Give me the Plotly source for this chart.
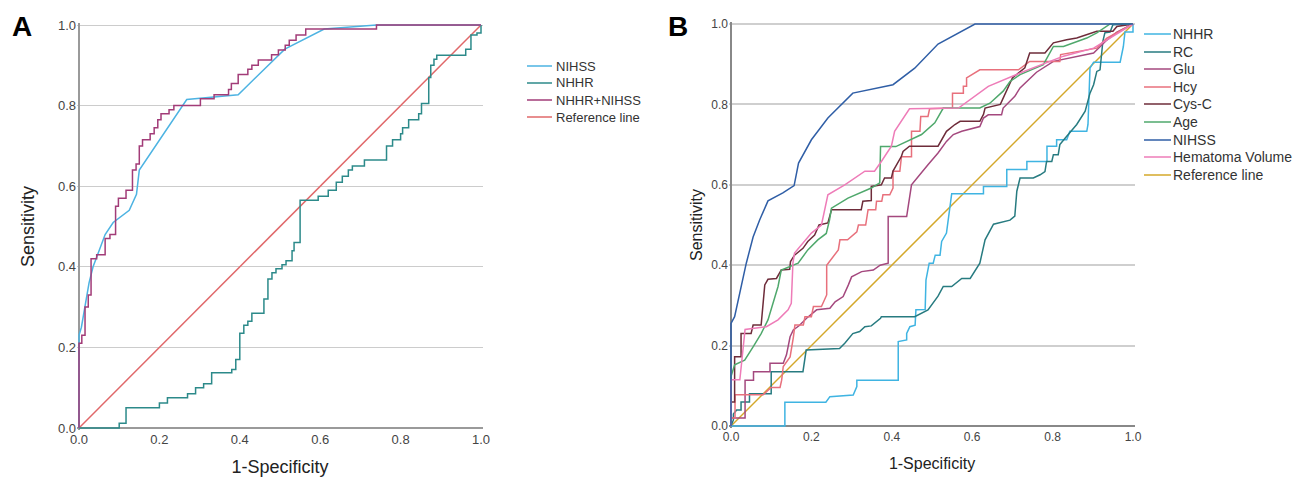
import plotly.graph_objects as go

# ---------------- Panel A data ----------------
a_nihss_x = [0, 0, 0.006, 0.015, 0.025, 0.035, 0.05, 0.065, 0.085, 0.125, 0.143, 0.15, 0.268, 0.33, 0.396, 0.512, 0.61, 0.74, 1.0]
a_nihss_y = [0, 0.23, 0.25, 0.30, 0.36, 0.40, 0.44, 0.48, 0.51, 0.54, 0.58, 0.64, 0.815, 0.82, 0.827, 0.94, 0.99, 1.0, 1.0]

a_nhhr_x = [0, 0.10, 0.117, 0.20, 0.22, 0.27, 0.29, 0.31, 0.33, 0.38,
            0.39, 0.40, 0.41, 0.42, 0.43, 0.46, 0.47, 0.48, 0.49, 0.505,
            0.515, 0.53, 0.535, 0.55, 0.595, 0.62, 0.64, 0.655, 0.67, 0.68,
            0.71, 0.765, 0.78, 0.80, 0.805, 0.82, 0.845, 0.852, 0.87, 0.875,
            0.883, 0.89, 0.962, 0.975, 0.99, 1.0]
a_nhhr_y = [0, 0.012, 0.05, 0.062, 0.075, 0.085, 0.10, 0.11, 0.137, 0.145,
            0.17, 0.235, 0.255, 0.265, 0.285, 0.32, 0.37, 0.385, 0.395, 0.405,
            0.415, 0.44, 0.46, 0.565, 0.575, 0.59, 0.61, 0.625, 0.64, 0.65,
            0.665, 0.70, 0.715, 0.73, 0.745, 0.765, 0.78, 0.805, 0.87, 0.90,
            0.915, 0.925, 0.94, 0.975, 0.98, 1.0]

a_comb_x = [0, 0, 0.007, 0.015, 0.023, 0.03, 0.044, 0.065, 0.077, 0.091, 0.098, 0.117, 0.133, 0.142,
            0.15, 0.158, 0.177, 0.187, 0.196, 0.204, 0.224, 0.236, 0.302, 0.336, 0.372, 0.379, 0.396,
            0.42, 0.43, 0.446, 0.479, 0.496, 0.513, 0.523, 0.54, 0.564, 0.74, 1.0]
a_comb_y = [0, 0.21, 0.23, 0.30, 0.33, 0.42, 0.43, 0.47, 0.48, 0.55, 0.57, 0.59, 0.64, 0.655,
            0.70, 0.715, 0.73, 0.745, 0.765, 0.78, 0.79, 0.80, 0.817, 0.827, 0.84, 0.855, 0.877,
            0.89, 0.90, 0.913, 0.926, 0.938, 0.95, 0.962, 0.975, 0.99, 1.0, 1.0]

ref_x = [0, 1]
ref_y = [0, 1]

# ---------------- Panel B data ----------------
b_nhhr_x = [0, 0.134, 0.134, 0.236, 0.246, 0.304, 0.313, 0.313, 0.416, 0.416, 0.437, 0.437, 0.445, 0.458, 0.46,
            0.483, 0.485, 0.493, 0.503, 0.508, 0.52, 0.524, 0.536, 0.54, 0.549, 0.628, 0.628, 0.686, 0.686,
            0.736, 0.736, 0.786, 0.786, 0.81, 0.81, 0.835, 0.843, 0.885, 0.888, 0.893, 0.902, 0.968, 0.976,
            0.98, 1.0, 1.0]
b_nhhr_y = [0, 0, 0.059, 0.059, 0.073, 0.077, 0.098, 0.114, 0.114, 0.21, 0.214, 0.23, 0.247, 0.251, 0.289,
            0.29, 0.363, 0.405, 0.405, 0.425, 0.425, 0.459, 0.48, 0.512, 0.578, 0.578, 0.596, 0.596, 0.638,
            0.638, 0.658, 0.658, 0.696, 0.696, 0.712, 0.712, 0.733, 0.733, 0.75, 0.89, 0.905, 0.905, 0.944,
            0.98, 0.98, 1.0]

b_rc_x = [0, 0.006, 0.006, 0.014, 0.025, 0.025, 0.046, 0.046, 0.1, 0.1, 0.179, 0.187, 0.27, 0.283, 0.303,
          0.32, 0.333, 0.349, 0.372, 0.374, 0.457, 0.473, 0.49, 0.515, 0.528, 0.549, 0.574, 0.595, 0.619,
          0.632, 0.653, 0.694, 0.706, 0.711, 0.719, 0.752, 0.769, 0.781, 0.785, 0.798, 0.802, 0.814, 0.818,
          0.831, 0.86, 0.881, 0.893, 0.902, 0.91, 0.918, 0.922, 0.925, 0.93, 0.943, 0.95, 1.0]
b_rc_y = [0, 0.015, 0.03, 0.04, 0.04, 0.06, 0.06, 0.08, 0.08, 0.135, 0.135, 0.189, 0.193, 0.206, 0.23,
          0.235, 0.247, 0.249, 0.268, 0.272, 0.272, 0.28, 0.289, 0.323, 0.347, 0.347, 0.367, 0.367, 0.405,
          0.463, 0.502, 0.512, 0.522, 0.584, 0.617, 0.617, 0.625, 0.633, 0.658, 0.658, 0.675, 0.675, 0.7,
          0.716, 0.75, 0.783, 0.828, 0.849, 0.882, 0.886, 0.924, 0.957, 0.978, 0.98, 0.998, 1.0]

b_glu_x = [0, 0, 0.035, 0.035, 0.056, 0.056, 0.097, 0.097, 0.13, 0.138, 0.147, 0.155, 0.17, 0.188, 0.213,
           0.246, 0.259, 0.279, 0.292, 0.3, 0.325, 0.354, 0.371, 0.391, 0.391, 0.437, 0.449, 0.469, 0.49,
           0.515, 0.536, 0.553, 0.574, 0.619, 0.628, 0.64, 0.673, 0.677, 0.706, 0.719, 0.76, 0.802, 0.902,
           0.935, 0.96, 1.0]
b_glu_y = [0, 0.02, 0.02, 0.114, 0.114, 0.135, 0.135, 0.156, 0.156, 0.177, 0.222, 0.239, 0.25, 0.268, 0.289,
           0.293, 0.309, 0.322, 0.351, 0.371, 0.384, 0.388, 0.4, 0.405, 0.521, 0.521, 0.6, 0.625, 0.65,
           0.679, 0.708, 0.725, 0.733, 0.745, 0.766, 0.774, 0.774, 0.791, 0.82, 0.841, 0.88, 0.907, 0.928,
           0.96, 0.98, 1.0]

b_hcy_x = [0, 0, 0.01, 0.01, 0.08, 0.1, 0.122, 0.126, 0.13, 0.147, 0.155, 0.159, 0.18, 0.184, 0.2, 0.205,
           0.225, 0.238, 0.238, 0.255, 0.267, 0.271, 0.29, 0.313, 0.317, 0.335, 0.341, 0.36, 0.362, 0.375,
           0.378, 0.395, 0.403, 0.403, 0.42, 0.424, 0.449, 0.449, 0.47, 0.472, 0.49, 0.494, 0.551, 0.551,
           0.578, 0.578, 0.586, 0.586, 0.619, 0.715, 0.743, 0.818, 0.82, 0.91, 0.935, 1.0]
b_hcy_y = [0, 0.02, 0.02, 0.078, 0.078, 0.096, 0.096, 0.114, 0.148, 0.172, 0.22, 0.251, 0.251, 0.272, 0.272,
           0.297, 0.297, 0.326, 0.4, 0.421, 0.438, 0.463, 0.463, 0.483, 0.5, 0.5, 0.538, 0.538, 0.559, 0.559,
           0.575, 0.575, 0.592, 0.634, 0.634, 0.67, 0.67, 0.733, 0.733, 0.77, 0.77, 0.789, 0.791, 0.828,
           0.828, 0.845, 0.845, 0.866, 0.886, 0.886, 0.907, 0.907, 0.924, 0.94, 0.965, 1.0]

b_cys_x = [0, 0, 0.009, 0.009, 0.025, 0.025, 0.05, 0.055, 0.075, 0.078, 0.084, 0.092, 0.113, 0.125, 0.146,
           0.148, 0.158, 0.179, 0.191, 0.208, 0.219, 0.241, 0.25, 0.324, 0.328, 0.349, 0.349, 0.374, 0.382,
           0.399, 0.403, 0.424, 0.428, 0.444, 0.515, 0.536, 0.557, 0.57, 0.619, 0.628, 0.632, 0.67, 0.686,
           0.7, 0.731, 0.743, 0.781, 0.802, 0.835, 0.86, 0.91, 0.95, 0.96, 1.0]
b_cys_y = [0, 0.06, 0.06, 0.172, 0.172, 0.23, 0.23, 0.251, 0.251, 0.289, 0.351, 0.365, 0.367, 0.388, 0.39,
           0.409, 0.425, 0.442, 0.459, 0.475, 0.5, 0.505, 0.538, 0.538, 0.559, 0.561, 0.596, 0.6, 0.617,
           0.617, 0.634, 0.671, 0.683, 0.696, 0.696, 0.733, 0.75, 0.758, 0.758, 0.775, 0.791, 0.8, 0.833,
           0.866, 0.891, 0.928, 0.928, 0.953, 0.961, 0.965, 0.982, 0.982, 0.994, 1.0]

b_age_x = [0, 0, 0.009, 0.034, 0.055, 0.075, 0.092, 0.104, 0.117, 0.125, 0.146, 0.167, 0.191, 0.216, 0.237,
           0.245, 0.25, 0.291, 0.349, 0.37, 0.372, 0.41, 0.474, 0.507, 0.528, 0.619, 0.644, 0.677, 0.694,
           0.719, 0.777, 0.802, 0.827, 0.885, 0.91, 0.943, 1.0]
b_age_y = [0, 0.123, 0.152, 0.164, 0.197, 0.23, 0.264, 0.305, 0.347, 0.388, 0.396, 0.405, 0.438, 0.463, 0.479,
           0.512, 0.542, 0.567, 0.592, 0.605, 0.695, 0.695, 0.725, 0.754, 0.791, 0.791, 0.803, 0.833, 0.857,
           0.874, 0.899, 0.944, 0.944, 0.965, 0.978, 1.0, 1.0]

b_nihss_x = [0, 0, 0.009, 0.026, 0.038, 0.055, 0.071, 0.092, 0.129, 0.157, 0.168, 0.2, 0.241, 0.303, 0.332,
             0.403, 0.457, 0.515, 0.607, 1.0]
b_nihss_y = [0, 0.255, 0.272, 0.347, 0.405, 0.47, 0.512, 0.56, 0.58, 0.598, 0.654, 0.712, 0.766, 0.828, 0.834,
             0.849, 0.89, 0.95, 1.0, 1.0]

b_hema_x = [0, 0, 0.022, 0.035, 0.088, 0.117, 0.142, 0.15, 0.154, 0.158, 0.2, 0.225, 0.241, 0.283, 0.333,
            0.357, 0.374, 0.399, 0.407, 0.424, 0.444, 0.566, 0.64, 0.719, 0.827, 0.902, 1.0]
b_hema_y = [0, 0.115, 0.115, 0.24, 0.247, 0.264, 0.289, 0.305, 0.405, 0.43, 0.48, 0.5, 0.575, 0.6, 0.634,
            0.634, 0.658, 0.696, 0.733, 0.758, 0.789, 0.791, 0.845, 0.878, 0.92, 0.94, 1.0]

# ---------------- styling ----------------
FONT = "Liberation Sans, Arial, sans-serif"
W, H = 1299, 479

a_names = ["NIHSS", "NHHR", "NHHR+NIHSS", "Reference line"]
a_colors = ["#4db3e2", "#2c8a8a", "#a23c78", "#e0686a"]
a_series = [(a_nihss_x, a_nihss_y, "linear"), (a_nhhr_x, a_nhhr_y, "hv"),
            (a_comb_x, a_comb_y, "hv"), (ref_x, ref_y, "linear")]

b_names = ["NHHR", "RC", "Glu", "Hcy", "Cys-C", "Age", "NIHSS", "Hematoma Volume", "Reference line"]
b_colors = ["#3fb4e2", "#277b80", "#a4487e", "#e8707c", "#6e2c3a", "#4fa86c", "#2f5ea6", "#ee7cb8", "#d4a82a"]
b_series = [(b_nhhr_x, b_nhhr_y), (b_rc_x, b_rc_y), (b_glu_x, b_glu_y), (b_hcy_x, b_hcy_y),
            (b_cys_x, b_cys_y), (b_age_x, b_age_y), (b_nihss_x, b_nihss_y), (b_hema_x, b_hema_y),
            (ref_x, ref_y)]

fig = go.Figure()

for i in [3, 1, 0, 2]:
    x, y, shp = a_series[i]
    fig.add_trace(go.Scatter(x=x, y=y, mode="lines", name=a_names[i], showlegend=False,
                             line=dict(color=a_colors[i], width=1.5, shape=shp),
                             xaxis="x", yaxis="y"))

for i in [8, 0, 1, 2, 3, 4, 5, 7, 6]:
    x, y = b_series[i]
    fig.add_trace(go.Scatter(x=x, y=y, mode="lines", name=b_names[i], showlegend=False,
                             line=dict(color=b_colors[i], width=1.5),
                             xaxis="x2", yaxis="y2"))

pad = 2.0 / 402


def px_dom(a, b):
    return [a / W, b / W]


def py_dom(top, bottom):
    return [1 - bottom / H, 1 - top / H]


axis_common = dict(range=[-pad, 1 + pad], showline=False, zeroline=True, ticks="",
                   tickvals=[0, 0.2, 0.4, 0.6, 0.8, 1.0], tickformat=".1f", fixedrange=True,
                   automargin=False)

fig.update_layout(
    width=W, height=H, margin=dict(l=0, r=0, t=0, b=0, autoexpand=False),
    paper_bgcolor="white", plot_bgcolor="white",
    font=dict(family=FONT, color="#333333"),
    showlegend=False,
    xaxis=dict(axis_common, domain=px_dom(79 - 2, 481 + 2), anchor="y", showgrid=False,
               zerolinecolor="#9a9a9a", zerolinewidth=1.5,
               tickfont=dict(size=13, color="#444"),
               title=dict(text="1-Specificity", font=dict(size=18, color="#222"), standoff=14)),
    yaxis=dict(axis_common, domain=py_dom(25 - 2, 428 + 2), anchor="x", showgrid=True,
               gridcolor="#cccccc", gridwidth=1, zerolinecolor="#9a9a9a", zerolinewidth=1.5,
               tickfont=dict(size=13, color="#444"),
               title=dict(text="Sensitivity", font=dict(size=18, color="#222"), standoff=18)),
    xaxis2=dict(axis_common, domain=px_dom(731 - 2, 1133 + 2), anchor="y2", showgrid=False,
                zerolinecolor="#888888", zerolinewidth=2,
                tickfont=dict(size=12, color="#444"),
                title=dict(text="1-Specificity", font=dict(size=16, color="#222"), standoff=14)),
    yaxis2=dict(axis_common, domain=py_dom(24 - 2, 426 + 2), anchor="x2", showgrid=True,
                gridcolor="#cfcfcf", gridwidth=1.5, zerolinecolor="#888888", zerolinewidth=2,
                tickfont=dict(size=12, color="#444"),
                title=dict(text="Sensitivity", font=dict(size=16, color="#222"), standoff=4)),
)

shapes = []
annotations = []

a_leg_y = [66, 83, 100, 117]
for name, col, yy in zip(a_names, a_colors, a_leg_y):
    shapes.append(dict(type="line", xref="paper", yref="paper", x0=527 / W, x1=552 / W,
                       y0=1 - yy / H, y1=1 - yy / H, line=dict(color=col, width=1.5)))
    annotations.append(dict(text=name, xref="paper", yref="paper", x=554 / W, y=1 - yy / H,
                            xanchor="left", yanchor="middle", showarrow=False,
                            font=dict(size=13, color="#333")))

b_leg_y = [34, 52, 69, 87, 104, 122, 140, 157, 175]
for name, col, yy in zip(b_names, b_colors, b_leg_y):
    shapes.append(dict(type="line", xref="paper", yref="paper", x0=1144 / W, x1=1171 / W,
                       y0=1 - yy / H, y1=1 - yy / H, line=dict(color=col, width=1.5)))
    annotations.append(dict(text=name, xref="paper", yref="paper", x=1171 / W, y=1 - yy / H,
                            xanchor="left", yanchor="middle", showarrow=False,
                            font=dict(size=14, color="#333")))

annotations.append(dict(text="<b>A</b>", xref="paper", yref="paper", x=10 / W, y=1 - 26 / H,
                        xanchor="left", yanchor="middle", showarrow=False,
                        font=dict(size=28, color="black")))
annotations.append(dict(text="<b>B</b>", xref="paper", yref="paper", x=666 / W, y=1 - 26 / H,
                        xanchor="left", yanchor="middle", showarrow=False,
                        font=dict(size=28, color="black")))

fig.update_layout(shapes=shapes, annotations=annotations)
fig.write_html("out.html", config={"displayModeBar": False},
               post_script="document.body.style.margin='0';document.body.style.overflow='hidden';")
